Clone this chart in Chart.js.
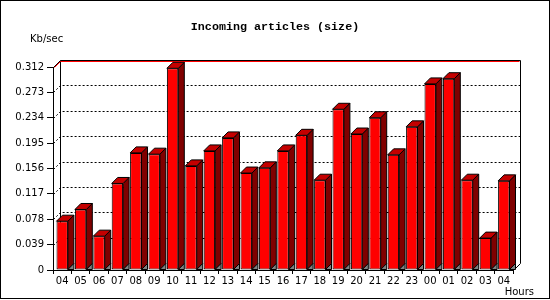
<!DOCTYPE html>
<html>
<head>
<meta charset="utf-8">
<title>Incoming articles (size)</title>
<script src="https://cdn.jsdelivr.net/npm/chart.js@4/dist/chart.umd.min.js"></script>
<style>
    body { margin: 0; background: #fff; }
    canvas { display: block; }
</style>
</head>
<body>
<canvas id="articlesChart" width="550" height="300"></canvas>
<script>
// hours of the day (categories)
const hours = [
    '04', '05', '06', '07', '08', '09', '10', '11', '12', '13', '14', '15', '16',
    '17', '18', '19', '20', '21', '22', '23', '00', '01', '02', '03', '04'
];

// Kb/sec per hour
const sizeValues = [
    0.075, 0.093, 0.052, 0.133, 0.180, 0.178, 0.310, 0.160, 0.183, 0.203, 0.149, 0.157, 0.183,
    0.207, 0.138, 0.247, 0.209, 0.234, 0.177, 0.220, 0.286, 0.294, 0.138, 0.049, 0.137
];

const yTicks = [0, 0.039, 0.078, 0.117, 0.156, 0.195, 0.234, 0.273, 0.312];

const chartTitle = 'Incoming articles (size)';
const yUnit = 'Kb/sec';
const xUnit = 'Hours';

const DEPTH = 7;      // depth of the back wall
const BAR_DEPTH = 6;  // depth of each bar

function poly(ctx, pts, fill) {
    ctx.beginPath();
    ctx.moveTo(pts[0][0], pts[0][1]);
    for (let i = 1; i < pts.length; i++) ctx.lineTo(pts[i][0], pts[i][1]);
    ctx.closePath();
    ctx.fillStyle = fill;
    ctx.fill();
    ctx.stroke();
}

// back wall, dashed grid, bar faces, texts and frame
const wallPlugin = {
    id: 'wall',
    beforeDatasetsDraw(chart) {
        const ctx = chart.ctx;
        const area = chart.chartArea;
        const y = chart.scales.y;
        const l = Math.round(area.left) + 0.5;
        const r = Math.round(area.right) + 0.5;
        const t = Math.round(area.top) + 0.5;
        const b = Math.round(area.bottom) + 0.5;
        ctx.save();
        ctx.lineWidth = 1;

        // dashed gridlines on the wall
        ctx.strokeStyle = '#000';
        ctx.setLineDash([2, 2]);
        yTicks.forEach(v => {
            if (v === 0 || v === yTicks[yTicks.length - 1]) return;
            const py = Math.round(y.getPixelForValue(v)) + 0.5;
            ctx.beginPath();
            ctx.moveTo(l, py);
            ctx.lineTo(l + DEPTH, py - DEPTH);
            ctx.lineTo(r + DEPTH, py - DEPTH);
            ctx.stroke();
        });
        ctx.setLineDash([]);

        // wall edges
        ctx.beginPath();
        ctx.moveTo(l + DEPTH, t - DEPTH);
        ctx.lineTo(l + DEPTH, b - DEPTH);
        ctx.moveTo(r + DEPTH, t - DEPTH);
        ctx.lineTo(r + DEPTH, b - DEPTH);
        ctx.lineTo(r, b);
        ctx.moveTo(l, t);
        ctx.lineTo(l + DEPTH, t - DEPTH);
        ctx.lineTo(r + DEPTH, t - DEPTH);
        ctx.stroke();

        // red top edge
        ctx.strokeStyle = '#ff0000';
        ctx.beginPath();
        ctx.moveTo(l + 1, t);
        ctx.lineTo(l + DEPTH, t - DEPTH + 1);
        ctx.lineTo(r + DEPTH - 1, t - DEPTH + 1);
        ctx.stroke();
        ctx.restore();
    },
    afterDatasetsDraw(chart) {
        const ctx = chart.ctx;
        const d = BAR_DEPTH;
        ctx.save();
        ctx.lineWidth = 1;
        ctx.strokeStyle = '#000';
        chart.getDatasetMeta(0).data.forEach(bar => {
            const left = bar.x - bar.width / 2;
            const right = bar.x + bar.width / 2;
            const top = bar.y;
            const base = bar.base;
            poly(ctx, [[right, top], [right + d, top - d], [right + d, base - d], [right, base]], '#800000');
            poly(ctx, [[right, base], [right + d, base - d], [right + d, base]], '#808080');
            poly(ctx, [[left, top], [left + d, top - d], [right + d, top - d], [right, top]], '#c40000');
        });
        ctx.restore();
    },
    afterDraw(chart) {
        const ctx = chart.ctx;
        ctx.save();
        ctx.fillStyle = '#000';
        ctx.textBaseline = 'middle';

        ctx.font = 'bold 11.7px "Liberation Mono"';
        ctx.textAlign = 'center';
        ctx.fillText(chartTitle, 275, 27);

        ctx.font = '10px "DejaVu Sans"';
        ctx.textAlign = 'left';
        ctx.fillText(yUnit, 30, 39);
        ctx.textAlign = 'right';
        ctx.fillText(xUnit, 534, 292);

        // frame round the image
        ctx.strokeStyle = '#000';
        ctx.lineWidth = 1;
        ctx.strokeRect(0.5, 0.5, 549, 298);
        ctx.restore();
    }
};

Chart.defaults.font.family = '"DejaVu Sans"';
Chart.defaults.font.size = 10;
Chart.defaults.color = '#000';

new Chart(document.getElementById('articlesChart'), {
    type: 'bar',
    data: {
        labels: hours,
        datasets: [{
            data: sizeValues,
            backgroundColor: '#ff0000',
            borderColor: '#000',
            borderWidth: 1,
            borderSkipped: false,
            barPercentage: 0.62,
            categoryPercentage: 1
        }]
    },
    options: {
        responsive: false,
        animation: false,
        layout: { padding: { left: 0, right: 37, top: 67, bottom: 0 } },
        plugins: {
            legend: { display: false },
            tooltip: { enabled: false },
            title: { display: false }
        },
        scales: {
            x: {
                grid: { drawOnChartArea: false, color: '#000', tickLength: 4, offset: true },
                border: { color: '#000' },
                ticks: { padding: 1, maxRotation: 0, autoSkip: false },
                afterFit(scale) { scale.height = 30; }
            },
            y: {
                min: 0,
                max: 0.312,
                grid: { drawOnChartArea: false, color: '#000', tickLength: 6 },
                border: { color: '#000' },
                ticks: {
                    padding: 3,
                    callback: v => v === 0 ? '0' : v.toFixed(3)
                },
                afterBuildTicks(scale) {
                    scale.ticks = yTicks.map(v => ({ value: v }));
                },
                afterFit(scale) { scale.width = 53; }
            }
        }
    },
    plugins: [wallPlugin]
});
</script>
</body>
</html>
